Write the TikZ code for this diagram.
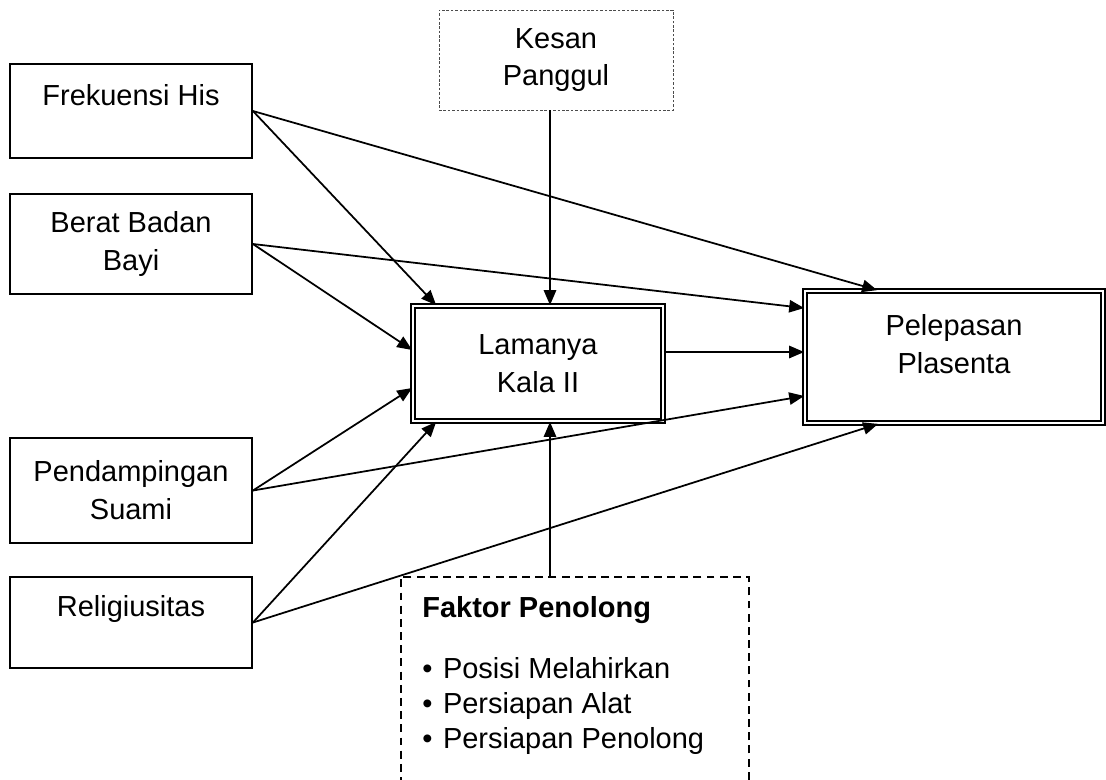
\documentclass[tikz,border=0pt]{standalone}
\usepackage{fontspec}
\setmainfont{Liberation Sans}
\usepackage{tikz}
\usetikzlibrary{arrows.meta, positioning, calc}
\tikzstyle{arrow} = [line width=1pt,-{Triangle[length=8.5pt,width=7pt]}]
\tikzstyle{varbox} = [draw, line width=1.1pt, minimum width=4.84cm, align=center, inner sep=2pt, font=\fontsize{16.5pt}{21.5pt}\selectfont]
\tikzstyle{mainbox} = [draw, line width=1pt, double, double distance=1.2pt, align=center, font=\fontsize{16.5pt}{21.5pt}\selectfont]
\tikzstyle{helperbox} = [draw, align=center, font=\fontsize{16.5pt}{21.5pt}\selectfont]

\begin{document}
\begin{tikzpicture}[x=0.02cm, y=-0.02cm]
        \useasboundingbox (0,0) rectangle (1106,779);
        % Variabel bebas
        \node[varbox, minimum height=1.88cm, text depth=18pt] (frek) at (131,111) {Frekuensi His};
        \node[varbox, minimum height=2.0cm] (berat) at (131,244) {Berat Badan\\Bayi};
        \node[varbox, minimum height=2.1cm] (damping) at (131,490.5) {Pendampingan\\Suami};
        \node[varbox, minimum height=1.82cm, text depth=19pt] (religi) at (131,622.5) {Religiusitas};
        % Variabel antara dan terikat
        \node[mainbox, minimum width=5.0cm, minimum height=2.3cm] (lama) at (538,363.5) {Lamanya\\Kala II};
        \node[mainbox, minimum width=5.96cm, minimum height=2.64cm, text depth=15pt] (lepas) at (954,357) {Pelepasan\\Plasenta};
        % Faktor luar
        \node[helperbox, draw=black!70, line width=0.5pt, dash pattern=on 1.5pt off 1pt, minimum width=4.68cm, minimum height=2.0cm] (kesan) at (556,60) {Kesan\\Panggul};
        \node[helperbox, line width=0.9pt, dash pattern=on 4.5pt off 3pt, minimum width=6.96cm, minimum height=4.48cm, anchor=north west] (penolong) at (400,576) {};
        \node[anchor=north west, align=left, inner sep=0pt, font=\fontsize{16.5pt}{19.8pt}\selectfont] (penolongisi) at ($(penolong.north west)+(22,20)$) {\textbf{Faktor Penolong}\\[15pt]
            \textbullet\hspace{6pt}Posisi Melahirkan\\
            \textbullet\hspace{6pt}Persiapan Alat\\
            \textbullet\hspace{6pt}Persiapan Penolong};
        \coordinate (kesanin) at ([xshift=0.24cm]lama.north);
        % Panah
        \draw[arrow] (frek.east) -- ([xshift=0.48cm]lama.north west);
        \draw[arrow] (frek.east) -- ([xshift=1.46cm]lepas.north west);
        \draw[arrow] (berat.east) -- ([yshift=0.27cm]lama.west);
        \draw[arrow] (berat.east) -- ([yshift=0.98cm]lepas.west);
        \draw[arrow] (damping.east) -- ([yshift=-0.49cm]lama.west);
        \draw[arrow] (damping.east) -- ([yshift=-0.78cm]lepas.west);
        \draw[arrow] (religi.east) -- ([xshift=0.48cm]lama.south west);
        \draw[arrow] (religi.east) -- ([xshift=1.48cm]lepas.south west);
        \draw[arrow] (kesan.south -| kesanin) -- (kesanin);
        \draw[arrow] (penolong.north -| kesanin) -- (lama.south -| kesanin);
        \draw[arrow] ([yshift=0.23cm]lama.east) -- ([yshift=0.23cm]lama.east -| lepas.west);
\end{tikzpicture}
\end{document}
